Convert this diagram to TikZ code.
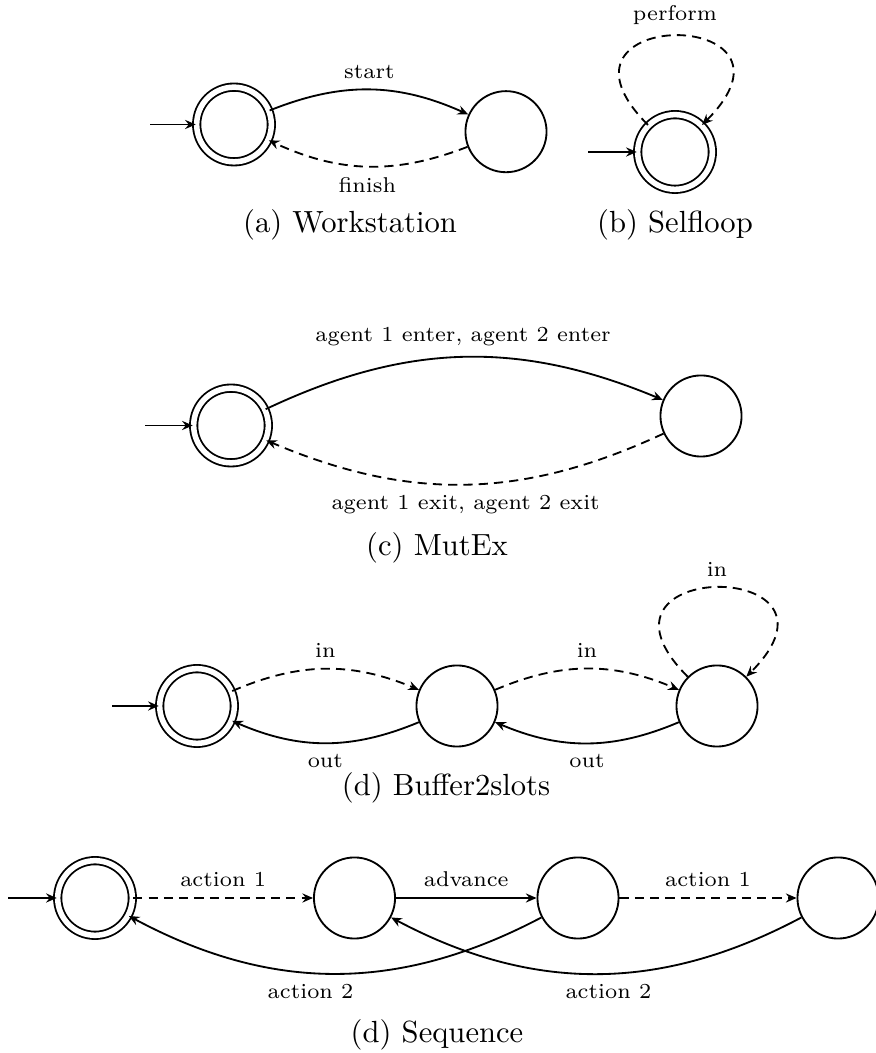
\documentclass[tikz,border=0pt]{standalone}
\usetikzlibrary{arrows.meta}

\begin{document}
\begin{tikzpicture}[x=0.3268pt, y=0.3268pt, semithick,
  >={Stealth[length=3.5pt, width=3pt, inset=1.2pt]},
  state/.style={draw, circle, inner sep=0pt, minimum size=26.5pt},
  accept/.style={state, double, double distance=1.8pt, minimum size=24.4pt},
  uncont/.style={dash pattern=on 3pt off 2pt},
  lbl/.style={font=\scriptsize},
  caption/.style={font=\normalsize}]
  \useasboundingbox (0,0) rectangle (875,1053);

  % (a) workstation
  \node[accept] (a0) at (234,928.5) {};
  \node[state] (a1) at (506,921.3) {};
  \coordinate (ia) at (150,928.5);
  \draw[->] (ia) -- (a0);
  \draw[->] (a0) to[bend left=23] node[lbl, above] {start} (a1);
  \draw[->, uncont] (a1) to[bend left=23] node[lbl, below] {finish} (a0);
  \node[caption] (capa) at (350,828) {(a) Workstation};

  % (b) selfloop
  \node[accept] (b0) at (675,901) {};
  \coordinate (ib) at (588,901);
  \draw[->] (ib) -- (b0);
  \draw[->, uncont] (b0) to[out=135, in=45, min distance=55pt] node[lbl, above] {perform} (b0);
  \node[caption] (capb) at (675,828) {(b) Selfloop};

  % (c) mutual exclusion
  \node[accept] (c0) at (231,627.5) {};
  \node[state] (c1) at (701,637) {};
  \coordinate (ic) at (145,627.5);
  \draw[->] (ic) -- (c0);
  \draw[->] (c0) to[bend left=24] node[lbl, above] {agent 1 enter, agent 2 enter} (c1);
  \draw[->, uncont] (c1) to[bend left=24] node[lbl, below] {agent 1 exit, agent 2 exit} (c0);
  \node[caption] (capc) at (437,505) {(c) MutEx};

  % (d) buffer with two slots
  \node[accept] (d0) at (197,347) {};
  \foreach \i/\x in {1/457, 2/717}
    \node[state] (d\i) at (\x,347) {};
  \coordinate (id) at (112,347);
  \draw[->] (id) -- (d0);
  \draw[->, uncont] (d0) to[bend left=23] node[lbl, above] {in} (d1);
  \draw[->, uncont] (d1) to[bend left=23] node[lbl, above] {in} (d2);
  \draw[->] (d1) to[bend left=23] node[lbl, below] {out} (d0);
  \draw[->] (d2) to[bend left=23] node[lbl, below] {out} (d1);
  \draw[->, uncont] (d2) to[out=135, in=45, min distance=55pt] node[lbl, above] {in} (d2);
  \node[caption] (capd) at (446,265) {(d) Buffer2slots};

  % (e) sequence
  \node[accept] (e0) at (95,155) {};
  \foreach \i/\x in {1/354.5, 2/578, 3/838}
    \node[state] (e\i) at (\x,155) {};
  \coordinate (ie) at (8,155);
  \draw[->] (ie) -- (e0);
  \draw[->, uncont] (e0) -- node[lbl, above] {action 1} (e1);
  \draw[->] (e1) -- node[lbl, above] {advance} (e2);
  \draw[->, uncont] (e2) -- node[lbl, above] {action 1} (e3);
  \draw[->] (e2) to[bend left=28] node[lbl, below, pos=.56] {action 2} (e0);
  \draw[->] (e3) to[bend left=28] node[lbl, below, pos=.47] {action 2} (e1);
  \node[caption] (cape) at (437,18) {(d) Sequence};
\end{tikzpicture}
\end{document}
